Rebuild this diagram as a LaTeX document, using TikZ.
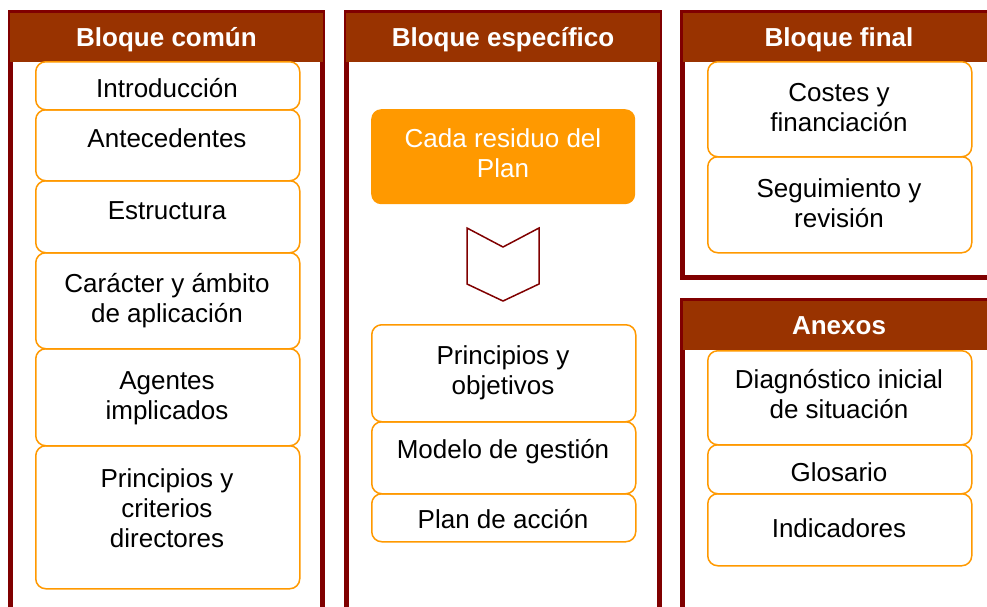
\documentclass[tikz,border=0pt]{standalone}
\usepackage{fontspec}
\setmainfont{Liberation Sans}
\definecolor{bdred}{HTML}{800000}
\definecolor{hdr}{HTML}{993300}
\definecolor{org}{HTML}{FF9900}
\begin{document}
\begin{tikzpicture}[x=1pt,y=-1pt,
  colframe/.style={draw=bdred, line width=5pt, anchor=north west, inner sep=0pt, outer sep=0pt},
  hdrbar/.style={fill=hdr, anchor=north west, inner sep=0pt, outer sep=0pt, text=white,
    text height=18.6pt, text depth=0pt,
    font=\fontsize{26}{30}\selectfont\bfseries},
  itembox/.style={draw=org, line width=1.5pt, rounded corners=10pt, anchor=north west,
    inner sep=0pt, minimum width=264pt},
  itext/.style={font=\fontsize{26}{30}\selectfont, align=center, inner sep=0pt},
  chev/.style={draw=bdred, line width=1.5pt, line join=miter}
]
\useasboundingbox (0,0) rectangle (987,606);
\clip (0,0) rectangle (987,606);
\fill[white] (0,0) rectangle (987,606);

% frames
\node[colframe, minimum width=312pt, minimum height=640pt] (f1) at (10.5,12.5) {};
\node[colframe, minimum width=313pt, minimum height=640pt] (f2) at (346.5,12.5) {};
\node[colframe, minimum width=313pt, minimum height=265pt] (f3) at (682.5,12.5) {};
\node[colframe, minimum width=313pt, minimum height=340pt] (f4) at (682.5,300.5) {};

% headers
\node[hdrbar, minimum width=313pt, minimum height=49pt] (h1) at (10,13) {Bloque común};
\node[hdrbar, minimum width=314pt, minimum height=49pt] (h2) at (346,13) {Bloque específico};
\node[hdrbar, minimum width=312pt, minimum height=49pt] (h3) at (683,13) {Bloque final};
\node[hdrbar, minimum width=312pt, minimum height=49pt] (h4) at (683,301) {Anexos};

% column 1 boxes
\node[itembox, minimum height=48pt] (c1a) at (35,61) {};
\node[itembox, minimum height=71pt] (c1b) at (35,109) {};
\node[itembox, minimum height=72pt] (c1c) at (35,180) {};
\node[itembox, minimum height=96pt] (c1d) at (35,252) {};
\node[itembox, minimum height=97pt] (c1e) at (35,348) {};
\node[itembox, minimum height=143pt] (c1f) at (35,445) {};
\node[itext] (t1a) at (167,88) {Introducción};
\node[itext] (t1b) at (167,138) {Antecedentes};
\node[itext] (t1c) at (167,211) {Estructura};
\node[itext] (t1d) at (167,301) {Carácter y ámbito\\de aplicación};
\node[itext] (t1e) at (167,398) {Agentes\\implicados};
\node[itext] (t1f) at (167,508) {Principios y\\criterios\\directores};

% column 2
\node[fill=org, rounded corners=10pt, anchor=north west, inner sep=0pt,
  minimum width=264pt, minimum height=95pt] (cada) at (371,109) {};
\node[itext, text=white] (tcada) at (503,153) {Cada residuo del\\Plan};
\coordinate (chtl) at (467,228);
\coordinate (chn) at (503,247);
\coordinate (chtr) at (539,228);
\coordinate (chbr) at (539,284);
\coordinate (chb) at (503,301);
\coordinate (chbl) at (467,284);
\draw[chev] (chtl) -- (chn) -- (chtr) -- (chbr) -- (chb) -- (chbl) -- cycle;
\node[itembox, minimum height=97pt] (c2a) at (371,324) {};
\node[itembox, minimum height=72pt] (c2b) at (371,421) {};
\node[itembox, minimum height=48pt] (c2c) at (371,493) {};
\node[itext] (t2a) at (503,373) {Principios y\\objetivos};
\node[itext] (t2b) at (503,452) {Modelo de gestión};
\node[itext] (t2c) at (503,519) {Plan de acción};

% column 3
\node[itembox, minimum height=95pt] (c3a) at (707,61) {};
\node[itembox, minimum height=96pt] (c3b) at (707,156) {};
\node[itext] (t3a) at (839,108) {Costes y\\financiación};
\node[itext] (t3b) at (839,203) {Seguimiento y\\revisión};

\node[itembox, minimum height=94pt] (c4a) at (707,350) {};
\node[itembox, minimum height=49pt] (c4b) at (707,444) {};
\node[itembox, minimum height=72pt] (c4c) at (707,493) {};
\node[itext] (t4a) at (839,394) {Diagnóstico inicial\\de situación};
\node[itext] (t4b) at (839,472) {Glosario};
\node[itext] (t4c) at (839,528) {Indicadores};
\end{tikzpicture}
\end{document}
